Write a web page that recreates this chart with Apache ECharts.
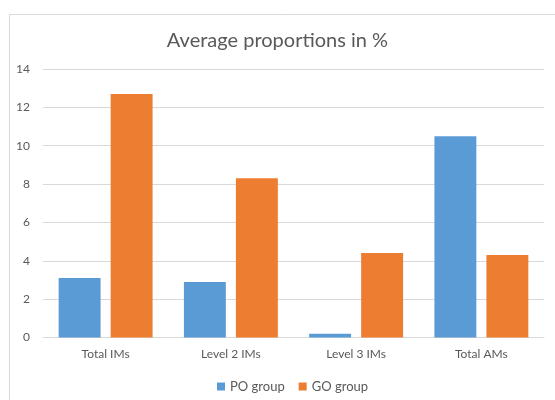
<!DOCTYPE html>
<html>
<head>
<meta charset="utf-8">
<script src="https://cdn.jsdelivr.net/npm/echarts@6/dist/echarts.min.js"></script>
<style>
html,body{margin:0;padding:0;background:#fff;}
#c{width:555px;height:400px;}
</style>
</head>
<body>
<div id="c"></div>
<script>
const titleText = 'Average proportions in %';
const categories = ['Total IMs', 'Level 2 IMs', 'Level 3 IMs', 'Total AMs'];
const seriesNames = ['PO group', 'GO group'];
const poValues = [3.1, 2.9, 0.2, 10.5];
const goValues = [12.7, 8.3, 4.4, 4.3];
const yTicks = [0, 2, 4, 6, 8, 10, 12, 14];

const font = 'Lato, "Open Sans", sans-serif';
const chart = echarts.init(document.getElementById('c'), null, {renderer: 'canvas'});
chart.setOption({
  backgroundColor: '#fff',
  animation: false,
  graphic: [{
    type: 'rect', left: 7, top: 12, z: -10,
    shape: {x: 0, y: 0, width: 560, height: 400},
    style: {fill: 'none', stroke: '#d9d9d9', lineWidth: 1}
  }],
  title: {
    text: titleText, left: 'center', top: 26,
    textStyle: {fontFamily: font, fontSize: 20, fontWeight: 'normal', color: '#595959'}
  },
  legend: {
    data: seriesNames, top: 375, left: 212,
    icon: 'rect', itemWidth: 8, itemHeight: 8, itemGap: 14,
    textStyle: {fontFamily: font, fontSize: 13, color: '#595959'}
  },
  grid: {left: 43, right: 11, top: 69, bottom: 62.5, containLabel: false},
  xAxis: {
    type: 'category', data: categories,
    axisLine: {show: true, lineStyle: {color: '#d9d9d9'}},
    axisTick: {show: false},
    axisLabel: {fontFamily: font, fontSize: 12, color: '#595959', margin: 11}
  },
  yAxis: {
    type: 'value', min: yTicks[0], max: yTicks[yTicks.length - 1], interval: 2,
    axisLine: {show: false}, axisTick: {show: false},
    axisLabel: {fontFamily: font, fontSize: 12, color: '#595959', margin: 13},
    splitLine: {lineStyle: {color: '#d9d9d9'}}
  },
  series: [
    {name: seriesNames[0], type: 'bar', data: poValues, itemStyle: {color: '#5B9BD5'},
     barGap: '24%', barCategoryGap: '25%'},
    {name: seriesNames[1], type: 'bar', data: goValues, itemStyle: {color: '#ED7D31'},
     barGap: '24%', barCategoryGap: '25%'}
  ]
});
</script>
</body>
</html>
